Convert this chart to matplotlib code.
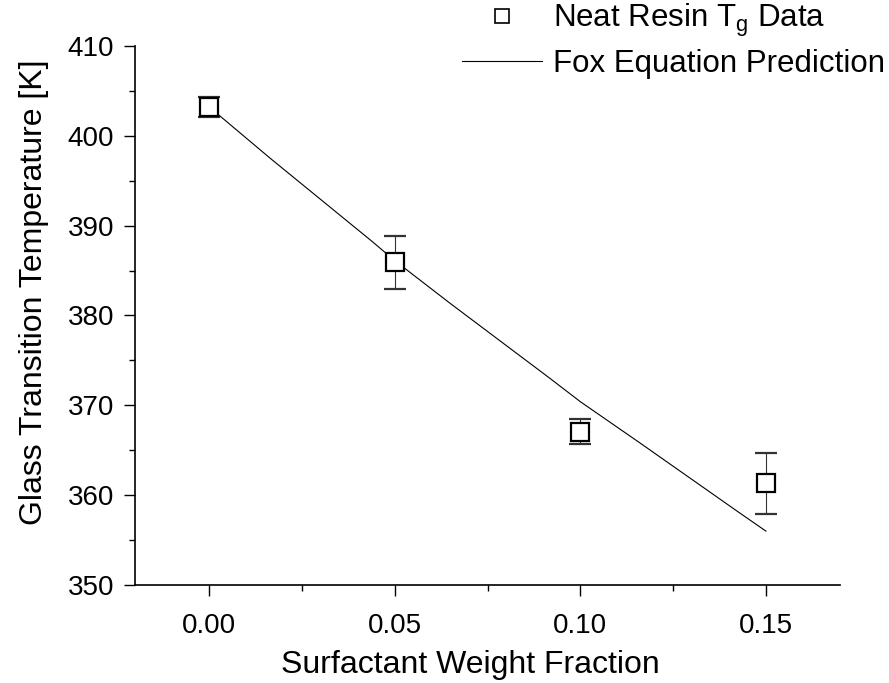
import matplotlib
matplotlib.use("Agg")
import matplotlib.pyplot as plt
from matplotlib.ticker import MultipleLocator
from matplotlib.lines import Line2D

plt.rcParams['font.family'] = ['Liberation Sans', 'DejaVu Sans']
plt.rcParams['mathtext.fontset'] = 'custom'
plt.rcParams['mathtext.rm'] = 'Liberation Sans'

# Measured glass transition data
frac = [0.00, 0.05, 0.10, 0.15]
tg = [403.2, 385.9, 367.05, 361.3]
tg_err = [1.1, 2.9, 1.4, 3.35]

# Fox equation prediction curve
fox_frac = [0.0, 0.0164, 0.0434, 0.05, 0.0649, 0.0918, 0.10, 0.1161, 0.143, 0.15]
fox_tg = [403.2, 397.5, 388.4, 386.1, 381.35, 373.0, 370.4, 365.8, 358.0, 356.0]

xticks = [0.00, 0.05, 0.10, 0.15]
xtick_labels = ["0.00", "0.05", "0.10", "0.15"]
yticks = [350, 360, 370, 380, 390, 400, 410]

fig = plt.figure(figsize=(8.89, 6.83), dpi=100)
ax = fig.add_axes([0.152, 0.1435, 0.793, 0.7892])

ax.errorbar(frac, tg, yerr=tg_err, fmt='s', mfc='white', mec='black',
            mew=1.6, ms=12.5, ecolor='#333333', elinewidth=0.8,
            capsize=8, capthick=0.8, zorder=3)
ln, = ax.plot(fox_frac, fox_tg, color='black', lw=0.8, zorder=2)

ax.set_xlim(-0.02, 0.17)
ax.set_ylim(350, 410)
ax.set_xticks(xticks)
ax.set_xticklabels(xtick_labels)
ax.set_yticks(yticks)
ax.xaxis.set_minor_locator(MultipleLocator(0.025))
ax.yaxis.set_minor_locator(MultipleLocator(5))

for s in ['top', 'right']:
    ax.spines[s].set_visible(False)
for s in ['left', 'bottom']:
    ax.spines[s].set_linewidth(1.2)

ax.tick_params(axis='both', which='major', direction='out', length=8, width=1.0,
               labelsize=20)
ax.tick_params(axis='x', which='major', pad=12)
ax.tick_params(axis='y', which='major', pad=7)
ax.tick_params(axis='both', which='minor', direction='out', length=4, width=1.0)

ax.set_xlabel('Surfactant Weight Fraction', fontsize=23)
ax.set_ylabel('Glass Transition Temperature [K]', fontsize=23)
ax.xaxis.set_label_coords(0.475, -0.148)
ax.yaxis.set_label_coords(-0.144, 0.544)
ax.xaxis.label.set_va('center')
ax.yaxis.label.set_va('center')

h1 = Line2D([], [], marker='s', ls='none', mfc='white', mec='black', mew=1.2, ms=10)
fig.legend([h1, ln], [r'Neat Resin T$_\mathregular{g}$ Data', 'Fox Equation Prediction'],
           loc='upper right', bbox_to_anchor=(1.0098, 1.016), frameon=False,
           fontsize=22.5, handlelength=2.56, handletextpad=0.35, labelspacing=0.32,
           borderaxespad=0.0)

fig.savefig('out.png', dpi=100)
